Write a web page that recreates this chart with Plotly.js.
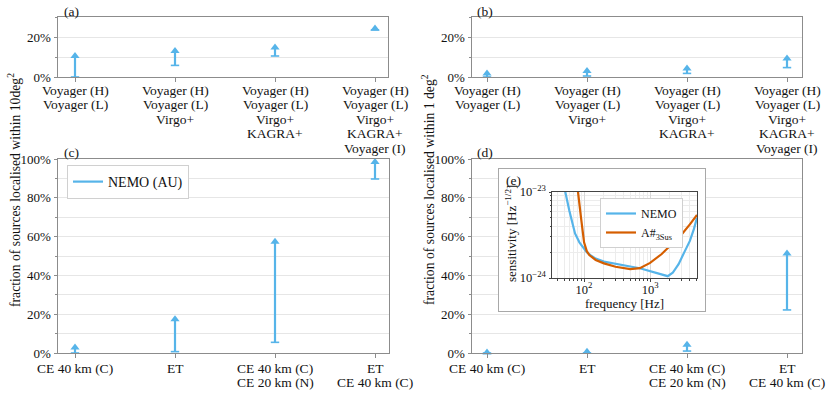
<!DOCTYPE html>
<html><head><meta charset="utf-8">
<script src="https://cdn.plot.ly/plotly-3.0.1.min.js"></script>
<style>html,body{margin:0;padding:0;background:#fff}#chart{width:831px;height:394px}</style>
</head><body><div id="chart"></div>
<script>
// ---------- data ----------
const labelsTop = [
  ['Voyager (H)','Voyager (L)'],
  ['Voyager (H)','Voyager (L)','Virgo+'],
  ['Voyager (H)','Voyager (L)','Virgo+','KAGRA+'],
  ['Voyager (H)','Voyager (L)','Virgo+','KAGRA+','Voyager (I)']
];
const labelsBottom = [
  ['CE 40 km (C)'],
  ['ET'],
  ['CE 40 km (C)','CE 20 km (N)'],
  ['ET','CE 40 km (C)']
];
// fraction (%) localised within 10 deg^2 (a) and 1 deg^2 (b) : lower / upper
const lowA  = [0, 5.8, 10.5, 23.5];
const highA = [10.5, 13, 14.7, 24.2];
const lowB  = [0, 0.5, 1.8, 4.7];
const highB = [1.7, 3, 4.2, 9.2];
// (c) 10 deg^2, (d) 1 deg^2
const lowC  = [0, 0.7, 5.5, 89.7];
const highC = [2.8, 17.4, 57.3, 98.5];
const lowD  = [0, 0, 1, 22.2];
const highD = [0.3, 0.7, 4.2, 51.3];
// (e) sensitivity curves
const freqNemo = [48, 52, 60, 73, 85, 100, 110, 130, 150, 200, 300, 500, 700, 1000, 1300, 1600, 1850, 2200, 2700, 3300, 4000, 4600, 5130];
const asdNemo  = [1.2e-23, 1e-23, 6e-24, 3.3e-24, 2.6e-24, 2.2e-24, 2.0e-24, 1.8e-24, 1.68e-24, 1.55e-24, 1.45e-24, 1.36e-24, 1.3e-24, 1.2e-24, 1.12e-24, 1.07e-24, 1.05e-24, 1.15e-24, 1.45e-24, 2.0e-24, 2.7e-24, 3.7e-24, 5e-24];
const freqA = [78, 81, 90, 100, 110, 120, 150, 200, 300, 500, 700, 1000, 1500, 2000, 3000, 4000, 5130];
const asdA  = [1.2e-23, 1e-23, 5e-24, 2.6e-24, 2.05e-24, 1.85e-24, 1.62e-24, 1.48e-24, 1.35e-24, 1.27e-24, 1.3e-24, 1.5e-24, 1.9e-24, 2.35e-24, 3.2e-24, 4.2e-24, 5.4e-24];

// ---------- style ----------
const BLUE = '#56B4E9', ORANGE = '#D55E00';
const GRAY = '#8c8c8c', GRID = '#e6e6e6';
const FONT = 'Liberation Serif, Times New Roman, serif';
const W = 831, H = 394;
const px = v => v / W, py = v => 1 - v / H;

const traces = [];
function arrows(lo, hi, n, legendName) {
  const xs = [], ys = [], idx = lo.map((_, i) => i);
  lo.forEach((l, i) => { xs.push(i, i, null); ys.push(l, hi[i], null); });
  traces.push({type:'scatter', mode:'lines', x:xs, y:ys, xaxis:'x'+n, yaxis:'y'+n,
    line:{color:BLUE, width:2.2}, name:legendName || '', showlegend:!!legendName, hoverinfo:'skip'});
  traces.push({type:'scatter', mode:'markers', x:idx, y:lo, xaxis:'x'+n, yaxis:'y'+n,
    marker:{symbol:'line-ew', size:6, color:BLUE, line:{color:BLUE, width:1.6}}, showlegend:false, hoverinfo:'skip'});
  traces.push({type:'scatter', mode:'markers', x:idx, y:hi, xaxis:'x'+n, yaxis:'y'+n, cliponaxis:false,
    marker:{symbol:'triangle-up', size:8, color:BLUE}, showlegend:false, hoverinfo:'skip'});
}
arrows(lowA, highA, '');
arrows(lowB, highB, 2);
arrows(lowC, highC, 3, 'NEMO (AU)');
arrows(lowD, highD, 4);
// dummy subplot for inset frame (background box)
traces.push({type:'scatter', x:[null], y:[null], xaxis:'x5', yaxis:'y5', showlegend:false, hoverinfo:'skip'});
traces.push({type:'scatter', mode:'lines', x:freqNemo, y:asdNemo, xaxis:'x6', yaxis:'y6', name:'NEMO',
  line:{color:BLUE, width:2.2}, legend:'legend2', hoverinfo:'skip'});
traces.push({type:'scatter', mode:'lines', x:freqA, y:asdA, xaxis:'x6', yaxis:'y6', name:'A#<sub>3Sus</sub>',
  line:{color:ORANGE, width:2.2}, legend:'legend2', hoverinfo:'skip'});

const layout = {
  width: W, height: H, margin:{l:0, r:0, t:0, b:0},
  paper_bgcolor:'#fff', plot_bgcolor:'#fff',
  font:{family:FONT, size:13.5, color:'#111'},
  showlegend:true,
  legend:{x:px(67), y:py(165), xanchor:'left', yanchor:'top', bgcolor:'#fff', bordercolor:'#d0d0d0', borderwidth:1,
    font:{size:14}, itemwidth:30, tracegroupgap:0},
  legend2:{x:px(600), y:py(198), xanchor:'left', yanchor:'top', bgcolor:'#fff', bordercolor:'#d0d0d0', borderwidth:1,
    font:{size:12}, itemwidth:30, tracegroupgap:0},
  annotations:[], shapes:[]
};

function mainAxes(n, x0, x1, y0, y1, ymax, xr) {
  const s = n === 1 ? '' : n;
  layout['xaxis'+s] = {domain:[px(x0), px(x1)], anchor:'y'+s, range:xr, tickvals:[0,1,2,3], showticklabels:false,
    ticks:'outside', ticklen:3.5, tickcolor:GRAY, showline:true, mirror:true, linecolor:GRAY, linewidth:1,
    showgrid:false, zeroline:false, fixedrange:true};
  layout['yaxis'+s] = {domain:[py(y1), py(y0)], anchor:'x'+s, range:[0, ymax], tick0:0, dtick:20, ticksuffix:'%',
    ticks:'outside', ticklen:3.5, tickcolor:GRAY, showline:true, mirror:true, linecolor:GRAY, linewidth:1,
    showgrid:true, gridcolor:GRID, zeroline:false, tickfont:{size:13}, fixedrange:true,
    minor:{tick0:0, dtick:10, ticks:'outside', ticklen:2, tickcolor:GRAY, showgrid:true, gridcolor:GRID}};
}
mainAxes(1, 58, 388, 17, 77, 30, [-0.17, 3.13]);
mainAxes(2, 472, 802, 17, 77, 30, [-0.15, 3.15]);
mainAxes(3, 58, 389, 159, 353, 100, [-0.17, 3.14]);
mainAxes(4, 472, 802, 159, 353, 100, [-0.15, 3.15]);

// inset background box
layout.xaxis5 = {domain:[px(499), px(705)], anchor:'y5', range:[0,1], showline:true, mirror:true,
  linecolor:'#a8a8a8', linewidth:1, showgrid:false, zeroline:false, showticklabels:false, ticks:'', fixedrange:true};
layout.yaxis5 = {domain:[py(311), py(169)], anchor:'x5', range:[0,1], showline:true, mirror:true,
  linecolor:'#a8a8a8', linewidth:1, showgrid:false, zeroline:false, showticklabels:false, ticks:'', fixedrange:true};
// inset axes
const minorX = [40,50,60,70,80,90,200,300,400,500,600,700,800,900,2000,3000,4000,5000];
const minorY = [2e-24,3e-24,4e-24,5e-24,6e-24,7e-24,8e-24,9e-24];
layout.xaxis6 = {domain:[px(552), px(697)], anchor:'y6', type:'log', range:[Math.log10(32.7), Math.log10(5130)],
  tickmode:'array', tickvals:[100,1000], ticktext:['10<sup>2</sup>','10<sup>3</sup>'], tickfont:{size:12.5},
  ticks:'outside', ticklen:2.5, ticklabelstandoff:-3, tickcolor:'#444', showline:true, mirror:true, linecolor:'#444', linewidth:1,
  showgrid:true, gridcolor:'#d8d8d8', zeroline:false, fixedrange:true,
  minor:{tickmode:'array', tickvals:minorX, ticks:'outside', ticklen:1.5, tickcolor:'#444', showgrid:true, gridcolor:'#ececec'}};
layout.yaxis6 = {domain:[py(278), py(192)], anchor:'x6', type:'log', range:[-24, -23],
  tickmode:'array', tickvals:[1e-24,1e-23], ticktext:['10<sup>\u221224</sup>','10<sup>\u221223</sup>'], tickfont:{size:12.5},
  ticks:'outside', ticklen:2.5, tickcolor:'#444', showline:true, mirror:true, linecolor:'#444', linewidth:1,
  showgrid:true, gridcolor:'#d8d8d8', zeroline:false, fixedrange:true,
  minor:{tickmode:'array', tickvals:minorY, ticks:'outside', ticklen:1.5, tickcolor:'#444', showgrid:true, gridcolor:'#ececec'}};

// multi-line category labels
function catLabels(labels, axisId, yFirst, step) {
  labels.forEach((lines, i) => lines.forEach((t, j) => layout.annotations.push({
    text:t, xref:axisId, yref:'paper', x:i, y:py(yFirst + j*step), xanchor:'center', yanchor:'middle',
    showarrow:false, font:{size:13.5}})));
}
catLabels(labelsTop, 'x', 90, 14.6);
catLabels(labelsTop, 'x2', 90, 14.6);
catLabels(labelsBottom, 'x3', 368, 14.2);
catLabels(labelsBottom, 'x4', 368, 14.2);

function ann(text, x, y, opts) {
  layout.annotations.push(Object.assign({text, xref:'paper', yref:'paper', x:px(x), y:py(y),
    showarrow:false, xanchor:'center', yanchor:'middle', font:{size:13.5}}, opts || {}));
}
ann('(a)', 62, 11, {xanchor:'left'});
ann('(b)', 475, 11, {xanchor:'left'});
ann('(c)', 62, 152, {xanchor:'left'});
ann('(d)', 475, 152, {xanchor:'left'});
ann('(e)', 504, 180, {xanchor:'left'});
ann('fraction of sources localised within 10deg<sup>2</sup>', 14, 190, {textangle:-90, font:{size:13.7}});
ann('fraction of sources localised within 1 deg<sup>2</sup>', 428, 190, {textangle:-90, font:{size:13.7}});
ann('sensitivity [Hz<sup>\u22121/2</sup>]', 511, 234, {textangle:-90, font:{size:13}});
ann('frequency [Hz]', 624, 303.5, {font:{size:13}});

Plotly.newPlot('chart', traces, layout, {staticPlot:true, displayModeBar:false});
</script>
</body></html>
